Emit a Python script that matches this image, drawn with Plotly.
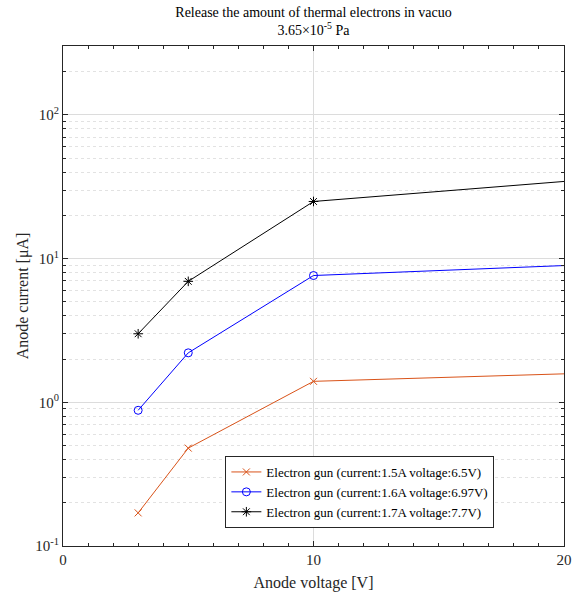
import plotly.graph_objects as go

# Data
voltage = [3, 5, 10, 30]
current_15A = [0.17, 0.48, 1.40, 1.78]
current_16A = [0.88, 2.21, 7.63, 10.5]
current_17A = [3.0, 6.95, 25.0, 47.5]

series_names = [
    "Electron gun (current:1.5A voltage:6.5V)",
    "Electron gun (current:1.6A voltage:6.97V)",
    "Electron gun (current:1.7A voltage:7.7V)",
]
y_tickvals = [0.1, 1, 10, 100]
y_ticktext = ["10<sup>-1</sup>", "10<sup>0</sup>", "10<sup>1</sup>", "10<sup>2</sup>"]
x_tickvals = [0, 10, 20]

FONT = "Liberation Serif, Times New Roman, serif"

fig = go.Figure()
styles = [
    ("#D95319", "x-thin-open", 7),
    ("#0000FF", "circle-open", 8),
    ("#000000", "asterisk-open", 8),
]
for name, ys, (color, sym, size) in zip(series_names, [current_15A, current_16A, current_17A], styles):
    fig.add_trace(go.Scatter(
        x=voltage, y=ys, name=name, mode="lines+markers",
        line=dict(color=color, width=1),
        marker=dict(symbol=sym, size=size, color=color, line=dict(color=color, width=1)),
    ))

axis_common = dict(
    showline=True, linecolor="#262626", linewidth=1, mirror="ticks",
    ticks="inside", tickcolor="#262626", ticklen=5,
    tickfont=dict(family=FONT, size=15, color="#262626"),
    zeroline=False,
)

fig.update_xaxes(
    range=[0, 20], tickvals=x_tickvals, ticktext=[str(v) for v in x_tickvals],
    showgrid=True, gridcolor="#DCDCDC", gridwidth=1,
    minor=dict(dtick=1, ticks="inside", ticklen=3, tickcolor="#262626", showgrid=False),
    title=dict(text="Anode voltage [V]", font=dict(family=FONT, size=16, color="#262626"), standoff=9),
    **axis_common,
)
fig.update_yaxes(
    type="log", range=[-1, 2.48], tickvals=y_tickvals, ticktext=y_ticktext,
    showgrid=True, gridcolor="#DCDCDC", gridwidth=1,
    minor=dict(dtick="D1", ticks="inside", ticklen=3, tickcolor="#262626",
               showgrid=True, gridcolor="#E2E2E2", griddash="dot", gridwidth=1),
    title=dict(text="Anode current [μA]", font=dict(family=FONT, size=16, color="#262626"), standoff=2),
    **axis_common,
)

fig.update_layout(
    width=584, height=600,
    margin=dict(l=63, r=13, t=46, b=45),
    paper_bgcolor="white", plot_bgcolor="white",
    font=dict(family=FONT, color="#262626"),
    title=dict(
        text="Release the amount of thermal electrons in vacuo<br>3.65×10<sup>-5</sup> Pa",
        x=0.5, xanchor="center", xref="paper",
        y=0.972, yanchor="top", yref="container",
        font=dict(family=FONT, size=14, color="#000000"),
    ),
    legend=dict(
        x=0.861, y=0.036, xanchor="right", yanchor="bottom",
        xref="paper", yref="paper",
        bgcolor="white", bordercolor="#262626", borderwidth=1,
        font=dict(family=FONT, size=13, color="#000000"),
        tracegroupgap=0, itemwidth=30,
    ),
    showlegend=True,
)

fig.write_html("out.html", config={"displayModeBar": False},
               post_script="document.body.style.margin='0';")
